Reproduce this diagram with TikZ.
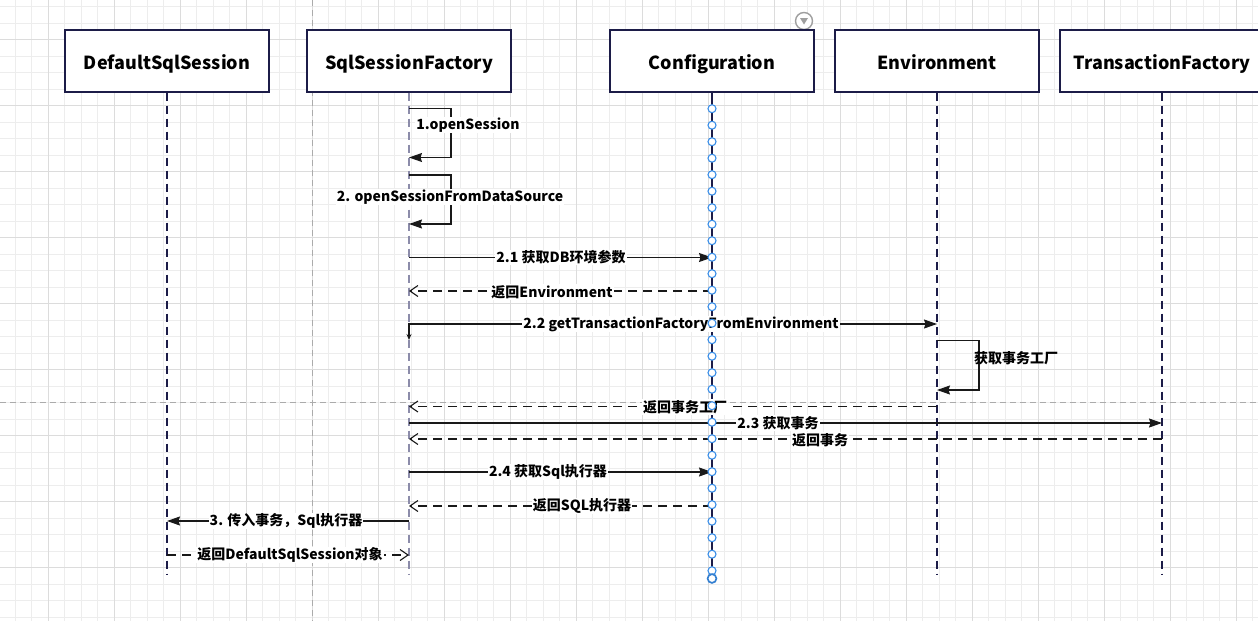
\documentclass[tikz,border=0pt]{standalone}
\usepackage{fontspec}
\setmainfont{Noto Sans CJK SC}
\usetikzlibrary{arrows.meta}
\definecolor{navy}{HTML}{1C1C48}
\definecolor{gmin}{HTML}{EDEDED}
\definecolor{gmaj}{HTML}{DCDCDC}
\definecolor{pbrk}{HTML}{ABABAB}
\definecolor{cblue}{HTML}{3A8EE8}
\definecolor{sfline}{HTML}{8C8CAA}
\tikzset{
  box/.style={draw=navy, line width=1.2pt, fill=white, minimum width=204pt, minimum height=62pt, inner sep=0pt, text height=18pt, text depth=2pt, font=\bfseries\fontsize{18}{21}\selectfont},
  life/.style={draw=navy, line width=1.2pt, dash pattern=on 8pt off 5pt},
  msg/.style={draw=black!90, line width=1.1pt},
  callmsg/.style={msg, -{Stealth[length=13pt,width=9pt,inset=1.5pt]}},
  retmsg/.style={msg, dash pattern=on 9pt off 6pt, -{Straight Barb[length=8pt,width=11pt]}},
  lbl/.style={fill=white, inner sep=1pt, font=\bfseries\fontsize{14}{16}\selectfont},
  cdot/.style={draw=cblue, line width=1.1pt, fill=white},
}
\begin{document}
\begin{tikzpicture}[x=1pt,y=-1pt]
\useasboundingbox (0,0) rectangle (1258,621);
\fill[white] (0,0) rectangle (1258,621);
% grid
\foreach \i in {0,...,75} \draw[gmin, line width=0.9pt] ({15.3+16.5*\i},0) -- ++(0,621);
\foreach \i in {0,...,37} \draw[gmin, line width=0.9pt] (0,{6.5+16.5*\i}) -- ++(1258,0);
\foreach \i in {0,...,18} \draw[gmaj, line width=0.9pt] ({48.3+66*\i},0) -- ++(0,621);
\foreach \i in {0,...,8} \draw[gmaj, line width=0.9pt] (0,{39.5+66*\i}) -- ++(1258,0);
\draw[pbrk, line width=1pt, dash pattern=on 6pt off 4pt] (312.3,0) -- (312.3,621);
\draw[pbrk, line width=1pt, dash pattern=on 6pt off 4pt] (0,402.3) -- (1258,402.3);
% icon
\draw[gray!75, line width=1.4pt, fill=white] (804,21) circle (8.5);
\fill[gray!75] (800,18) -- (808,18) -- (804,24.5) -- cycle;
% participants
\node[box] (dss) at (167,61) {DefaultSqlSession};
\node[box] (sf) at (409,61) {SqlSessionFactory};
\node[box] (cf) at (712,61) {Configuration};
\node[box] (env) at (937,61) {Environment};
\node[box] (tf) at (1162,61) {TransactionFactory};
\coordinate (yend) at (0,574);
\coordinate (y1a) at (0,108.5);
\coordinate (y1b) at (0,157.5);
\coordinate (y2a) at (0,175);
\coordinate (y2b) at (0,224);
\coordinate (y21) at (0,257.5);
\coordinate (yrenv) at (0,291);
\coordinate (y22) at (0,324);
\coordinate (y22d) at (0,340);
\coordinate (yea) at (0,340.5);
\coordinate (yeb) at (0,390);
\coordinate (yrtf) at (0,406.5);
\coordinate (y23) at (0,423);
\coordinate (yrt) at (0,439);
\coordinate (y24) at (0,472);
\coordinate (yrsql) at (0,506);
\coordinate (y3) at (0,521);
\coordinate (yrd) at (0,555);
% lifelines
\draw[life] (dss.south) -- (dss.south |- yend);
\draw[life, draw=sfline, line width=1.6pt] (sf.south) -- (sf.south |- yend);
\draw[life, dash pattern=on 12pt off 4.5pt] (cf.south) -- (cf.south |- yend);
\draw[life] (env.south) -- (env.south |- yend);
\draw[life] (tf.south) -- (tf.south |- yend);
% messages
\draw[callmsg] (sf.south |- y1a) -- ++(42,0) |- (sf.south |- y1b);
\node[lbl] (l1) at (468,125) {1.openSession};
\draw[callmsg] (sf.south |- y2a) -- ++(42,0) |- (sf.south |- y2b);
\node[lbl] (l2) at (450,197) {2. openSessionFromDataSource};
\draw[callmsg] (sf.south |- y21) -- (cf.south |- y21);
\node[lbl] (l21) at (561,257.5) {2.1 获取DB环境参数};
\draw[retmsg] (cf.south |- yrenv) -- (sf.south |- yrenv);
\node[lbl] (lre) at (552,292) {返回Environment};
\draw[msg, {Stealth[length=6pt,width=5pt]}-{Stealth[length=13pt,width=9pt,inset=1.5pt]}] (sf.south |- y22d) -- (sf.south |- y22) -- (env.south |- y22);
\node[lbl] (l22) at (681,324) {2.2 getTransactionFactoryFromEnvironment};
\draw[callmsg] (env.south |- yea) -- ++(42,0) |- (env.south |- yeb);
\node[lbl, fill=none, anchor=west] (le) at (973,358) {获取事务工厂};
\draw[retmsg] (env.south |- yrtf) -- (sf.south |- yrtf);
\node[lbl] (lrtf) at (685,407) {返回事务工厂};
\draw[callmsg] (sf.south |- y23) -- (tf.south |- y23);
\node[lbl] (l23) at (778,423) {2.3 获取事务};
\draw[retmsg] (tf.south |- yrt) -- (sf.south |- yrt);
\node[lbl] (lrt) at (820,440) {返回事务};
\draw[callmsg] (sf.south |- y24) -- (cf.south |- y24);
\node[lbl] (l24) at (548,472) {2.4 获取Sql执行器};
\draw[retmsg] (cf.south |- yrsql) -- (sf.south |- yrsql);
\node[lbl] (lrsql) at (582,506) {返回SQL执行器};
\draw[callmsg] (sf.south |- y3) -- (dss.south |- y3);
\node[lbl] (l3) at (286,521) {3. 传入事务，Sql执行器};
\draw[retmsg] (dss.south |- yrd) -- (sf.south |- yrd);
\node[lbl] (lrd) at (290,555) {返回DefaultSqlSession对象};
% configuration activation circles
\foreach \k in {0,...,28} \draw[cdot] (712,{108.7+16.5*\k}) circle (4);
\draw[cdot, line width=1.7pt, draw=cblue!90!black] (712,578.5) circle (4.4);
\end{tikzpicture}
\end{document}
